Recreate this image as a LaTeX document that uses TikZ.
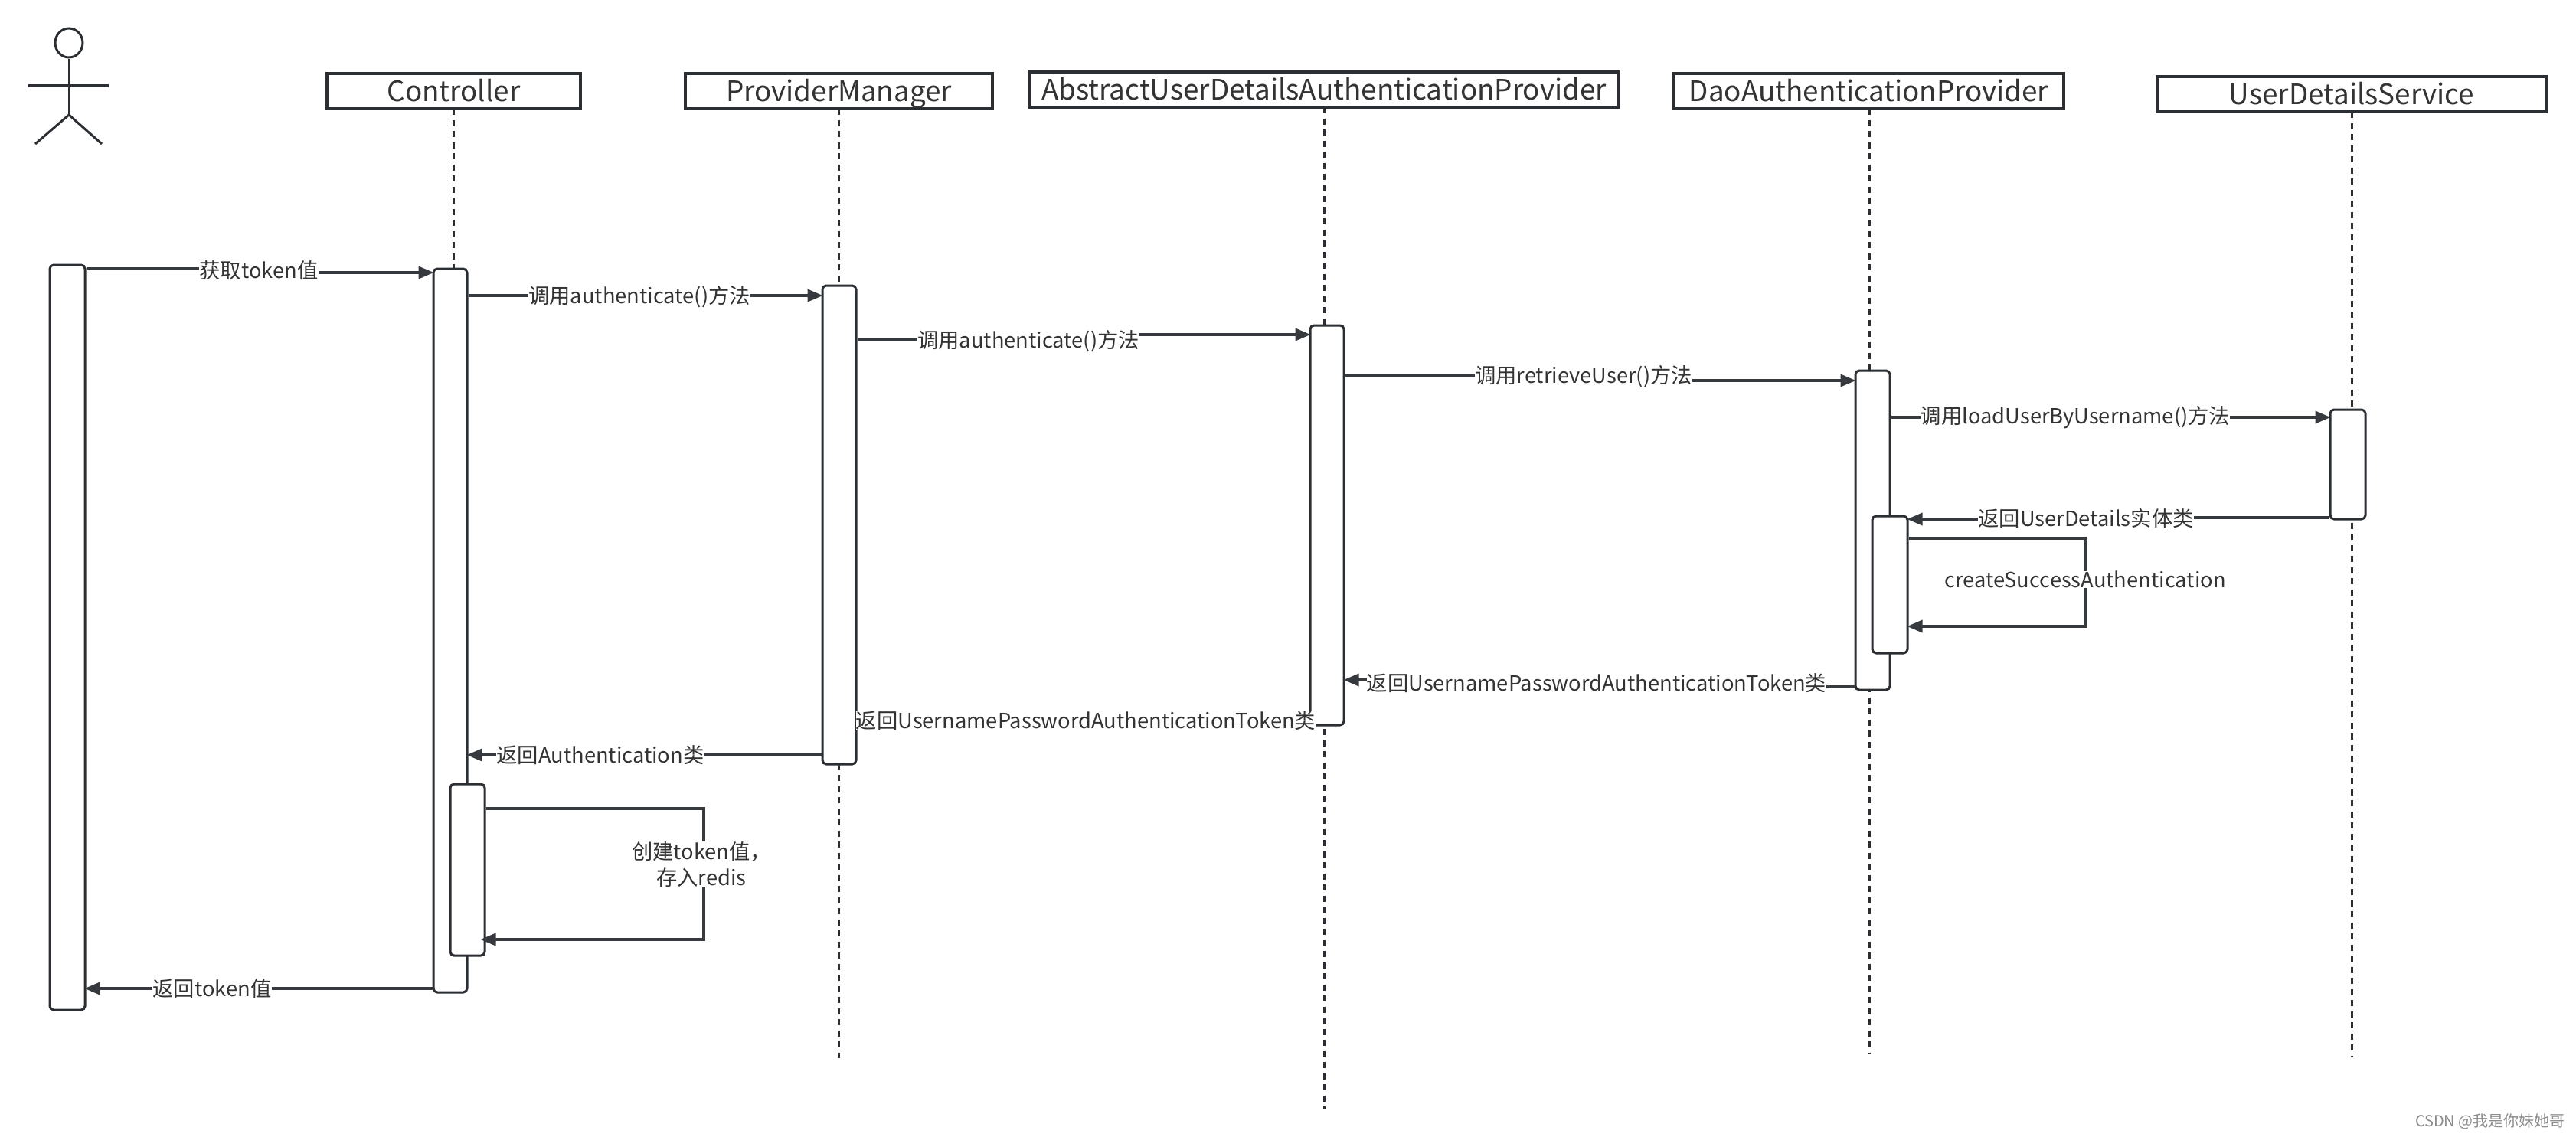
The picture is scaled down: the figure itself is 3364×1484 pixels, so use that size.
\documentclass[tikz,border=0pt]{standalone}
\usepackage{fontspec}
\setmainfont{Noto Sans CJK SC}
\usetikzlibrary{arrows.meta,calc,shapes.geometric}
\definecolor{ink}{HTML}{2B2F33}
\definecolor{txt}{HTML}{333333}
\tikzset{
  titlebox/.style={draw=ink,line width=3.5pt,fill=white,inner sep=0pt,text=txt,font=\fontsize{36.8}{44}\selectfont,text height=31pt,text depth=5pt},
  actbox/.style={draw=ink,line width=3pt,fill=white,rounded corners=5pt,inner sep=0pt},
  lifeline/.style={draw=ink,line width=3pt,dash pattern=on 8pt off 6.5pt},
  msgline/.style={draw=ink!95!white,line width=3.5pt},
  msgarrow/.style={msgline,-{Triangle[length=20pt,width=16pt]},shorten >=-2pt},
  lbl/.style={fill=white,inner sep=0pt,text=txt,font=\fontsize{27.3}{34}\selectfont},
  stick/.style={draw=ink,line width=3pt}
}
\newcommand\titled[6]{\node[titlebox,minimum width={#3-#2},minimum height={#5-#4}] (#1) at ({(#2+#3)/2},{(#4+#5)/2}) {#6};}
\newcommand\activ[5]{\node[actbox,minimum width={#4-#2},minimum height={#5-#3}] (#1) at ({(#2+#4)/2},{(#3+#5)/2}) {};}
% name, from, y-start, to, y-end, label x, label y, text
\newcommand\msgR[8]{\coordinate (#1s) at (#2 |- 0,#3);\coordinate (#1e) at (#4 |- 0,#5);
  \node[lbl] (#1l) at (#6,#7) {#8};
  \draw[msgline] (#1s) -- (#1l.west |- #1s);
  \draw[msgarrow] (#1l.east |- #1e) -- (#1e);}
\newcommand\msgL[8]{\coordinate (#1s) at (#2 |- 0,#3);\coordinate (#1e) at (#4 |- 0,#5);
  \node[lbl] (#1l) at (#6,#7) {#8};
  \draw[msgline] (#1s) -- (#1l.east |- #1s);
  \draw[msgarrow] (#1l.west |- #1e) -- (#1e);}
\begin{document}
\begin{tikzpicture}[x=1pt,y=-1pt]
\useasboundingbox[fill=white] (0,0) rectangle (3364,1484);
% actor
\node[draw=ink,line width=3pt,ellipse,minimum width=36pt,minimum height=38pt,inner sep=0pt] (head) at (90,56) {};
\coordinate (hip) at (90,150);
\coordinate (armL) at (37,112);
\coordinate (armR) at (142,112);
\coordinate (legL) at (46,188);
\coordinate (legR) at (133,188);
\draw[stick] (head.south) -- (hip);
\draw[stick,line width=4pt] (armL) -- (armR);
\draw[stick] (legL) -- (hip) -- (legR);
% participants
\titled{p1}{427}{758}{96}{142}{Controller}
\titled{p2}{895}{1296}{96}{142}{ProviderManager}
\titled{p3}{1345}{2113}{94}{140}{AbstractUserDetailsAuthenticationProvider}
\titled{p4}{2186}{2695}{96}{142}{DaoAuthenticationProvider}
\titled{p5}{2817}{3325}{100}{146}{UserDetailsService}
% lifelines
\coordinate (e1) at (592,1296);
\coordinate (e2) at (1095,1382);
\coordinate (e3) at (1729,1448);
\coordinate (e4) at (2441,1376);
\coordinate (e5) at (3071,1380);
\draw[lifeline] (592,142) -- (e1);
\draw[lifeline] (1095,142) -- (e2);
\draw[lifeline] (1729,140) -- (e3);
\draw[lifeline] (2441,142) -- (e4);
\draw[lifeline] (3071,146) -- (e5);
% activations
\activ{a0}{65}{346}{111}{1319}
\activ{a1}{566}{351}{610}{1296}
\activ{a1n}{588}{1024}{633}{1248}
\activ{a2}{1074}{373}{1118}{998}
\activ{a3}{1711}{425}{1755}{947}
\activ{a4}{2423}{484}{2468}{901}
\activ{a4n}{2445}{674}{2491}{853}
\activ{a5}{3043}{535}{3089}{678}
% messages
\msgR{m1}{a0.east}{351}{a1.west}{356}{338}{353}{获取token值}
\msgR{m2}{a1.east}{386}{a2.west}{386}{835}{388}{调用authenticate()方法}
\msgR{m3}{a2.east}{444}{a3.west}{437}{1343}{446}{调用authenticate()方法}
\msgR{m4}{a3.east}{490}{a4.west}{497}{2068}{492}{调用retrieveUser()方法}
\msgR{m5}{a4.east}{545}{a5.west}{545}{2710}{545}{调用loadUserByUsername()方法}
\msgL{m6}{a5.west}{676}{a4n.east}{678}{2724}{677}{返回UserDetails实体类}
\msgL{m7}{a4.west}{897}{a3.east}{888}{2085}{892}{返回UsernamePasswordAuthenticationToken类}
\coordinate (m8s) at (a3.west |- 0,947);
\coordinate (m8e) at (a2.east |- 0,941);
\draw[msgarrow] (m8s) -- (m8e);
\node[lbl] (m8l) at (1418,941) {返回UsernamePasswordAuthenticationToken类};
\msgL{m9}{a2.west}{986}{a1.east}{986}{784}{986}{返回Authentication类}
\msgL{m10}{a1.west}{1291}{a0.east}{1291}{277}{1291}{返回token值}
% self calls
\coordinate (s1s) at (a4n.east |- 0,703);
\coordinate (s1a) at (2723,703);
\coordinate (s1b) at (2723,818);
\coordinate (s1e) at (a4n.east |- 0,818);
\draw[msgarrow] (s1s) -- (s1a) -- (s1b) -- (s1e);
\node[lbl] (s1l) at (2723,757) {createSuccessAuthentication};
\coordinate (s2s) at (a1n.east |- 0,1056);
\coordinate (s2a) at (919,1056);
\coordinate (s2b) at (919,1227);
\coordinate (s2e) at (a1n.east |- 0,1227);
\draw[msgarrow,shorten >=-7pt] (s2s) -- (s2a) -- (s2b) -- (s2e);
\node[lbl,align=center] (s2l) at (916,1129) {创建token值，\\存入redis};
% watermark
\node[inner sep=0pt,anchor=east,text=black!45,font=\fontsize{20}{24}\selectfont] (wm) at (3350,1465) {CSDN @我是你妹她哥};
\end{tikzpicture}
\end{document}
